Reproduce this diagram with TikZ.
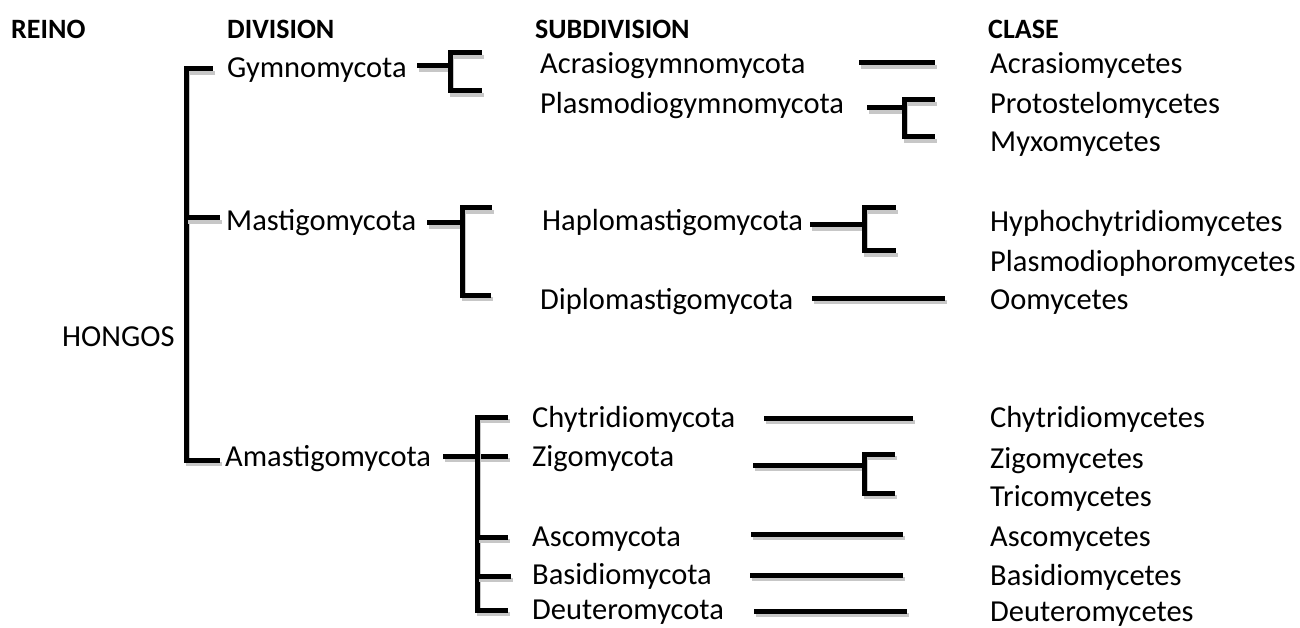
\documentclass[tikz,border=0pt]{standalone}
\usepackage{fontspec}
\setmainfont{Carlito}
\begin{document}
\begin{tikzpicture}[x=1pt,y=-1pt,
  lbl/.style={anchor=base west, inner sep=0pt, font=\fontsize{30.5}{36}\selectfont},
  hdr/.style={anchor=base west, inner sep=0pt, font=\fontsize{28}{33}\selectfont\bfseries},
  br/.style={draw=black, line width=5pt, line join=miter,
    preaction={draw=black!22, line width=4.5pt, transform canvas={xshift=2pt,yshift=-4pt}}}]
\useasboundingbox (0,0) rectangle (1300,628);
% headers
\node[hdr] (hReino) at (11,39) {REINO};
\node[hdr] (hDiv) at (227,39) {DIVISION};
\node[hdr] (hSub) at (535,39) {SUBDIVISION};
\node[hdr] (hClase) at (988,39) {CLASE};
% reino
\node[lbl] (hongos) at (62,346) {HONGOS};
% divisions
\node[lbl] (gymno) at (227,78) {Gymnomycota};
\node[lbl] (masti) at (226,231) {Mastigomycota};
\node[lbl] (amasti) at (225,466) {Amastigomycota};
% subdivisions
\node[lbl] (acrasiog) at (540,74) {Acrasiogymnomycota};
\node[lbl] (plasmog) at (540,114) {Plasmodiogymnomycota};
\node[lbl] (haplo) at (542,231) {Haplomastigomycota};
\node[lbl] (diplo) at (540,309) {Diplomastigomycota};
\node[lbl] (chytri) at (532,427) {Chytridiomycota};
\node[lbl] (zigo) at (532,466) {Zigomycota};
\node[lbl] (asco) at (532,546) {Ascomycota};
\node[lbl] (basidio) at (532,584) {Basidiomycota};
\node[lbl] (deutero) at (532,619) {Deuteromycota};
% classes
\node[lbl] (cAcrasio) at (990,74) {Acrasiomycetes};
\node[lbl] (cProto) at (990,114) {Protostelomycetes};
\node[lbl] (cMyxo) at (990,152) {Myxomycetes};
\node[lbl] (cHypho) at (990,232) {Hyphochytridiomycetes};
\node[lbl] (cPlasmo) at (990,271) {Plasmodiophoromycetes};
\node[lbl] (cOomy) at (990,309) {Oomycetes};
\node[lbl] (cChytri) at (990,427) {Chytridiomycetes};
\node[lbl] (cZigo) at (990,468) {Zigomycetes};
\node[lbl] (cTrico) at (990,506) {Tricomycetes};
\node[lbl] (cAsco) at (990,546) {Ascomycetes};
\node[lbl] (cBasidio) at (990,585) {Basidiomycetes};
\node[lbl] (cDeutero) at (990,621) {Deuteromycetes};
% main bracket
\coordinate (m1) at (213,69);
\coordinate (m2) at (186,460);
\coordinate (m3) at (220,460);
\coordinate (mm) at (186,218);
\coordinate (mm2) at (220,218);
\draw[br] (m1) -| (m2) -- (m3);
\draw[br] (mm) -- (mm2);
% Gymnomycota bracket
\coordinate (g0) at (417,66);
\coordinate (g1) at (450,66);
\coordinate (gt) at (482,53);
\coordinate (gb) at (450,91);
\coordinate (gbe) at (482,91);
\draw[br] (g0) -- (g1);
\draw[br] (gt) -| (gb) -- (gbe);
% Mastigomycota bracket
\coordinate (ms0) at (427,223);
\coordinate (ms1) at (462,223);
\coordinate (mst) at (492,208);
\coordinate (msb) at (462,295);
\coordinate (msbe) at (491,295);
\draw[br] (ms0) -- (ms1);
\draw[br] (mst) -| (msb) -- (msbe);
% Amastigomycota bracket
\coordinate (a0) at (443,456);
\coordinate (a1) at (477,456);
\coordinate (at) at (508,417);
\coordinate (ab) at (477,610);
\coordinate (abe) at (508,610);
\coordinate (az) at (508,456);
\coordinate (aa0) at (477,537);
\coordinate (aa) at (508,537);
\coordinate (ab0) at (477,576);
\coordinate (abs) at (511,576);
\draw[br] (a0) -- (a1) -- (az);
\draw[br] (at) -| (ab) -- (abe);
\draw[br] (aa0) -- (aa);
\draw[br] (ab0) -- (abs);
% subdivision -> class
\coordinate (s1a) at (859,63);  \coordinate (s1b) at (935,63);
\draw[br] (s1a) -- (s1b);
\coordinate (s2a) at (867,108); \coordinate (s2b) at (904,108);
\coordinate (s2t) at (935,100); \coordinate (s2v) at (904,137); \coordinate (s2e) at (935,137);
\draw[br] (s2a) -- (s2b);
\draw[br] (s2t) -| (s2v) -- (s2e);
\coordinate (s3a) at (810,225); \coordinate (s3b) at (864,225);
\coordinate (s3t) at (896,208); \coordinate (s3v) at (864,251); \coordinate (s3e) at (896,251);
\draw[br] (s3a) -- (s3b);
\draw[br] (s3t) -| (s3v) -- (s3e);
\coordinate (s4a) at (812,298); \coordinate (s4b) at (945,298);
\draw[br] (s4a) -- (s4b);
\coordinate (s5a) at (764,418); \coordinate (s5b) at (913,418);
\draw[br] (s5a) -- (s5b);
\coordinate (s6a) at (753,465); \coordinate (s6b) at (864,465);
\coordinate (s6t) at (895,454); \coordinate (s6v) at (864,493); \coordinate (s6e) at (895,493);
\draw[br] (s6a) -- (s6b);
\draw[br] (s6t) -| (s6v) -- (s6e);
\coordinate (s7a) at (751,534); \coordinate (s7b) at (903,534);
\draw[br] (s7a) -- (s7b);
\coordinate (s8a) at (750,575); \coordinate (s8b) at (903,575);
\draw[br] (s8a) -- (s8b);
\coordinate (s9a) at (754,611); \coordinate (s9b) at (907,611);
\draw[br] (s9a) -- (s9b);
\end{tikzpicture}
\end{document}
